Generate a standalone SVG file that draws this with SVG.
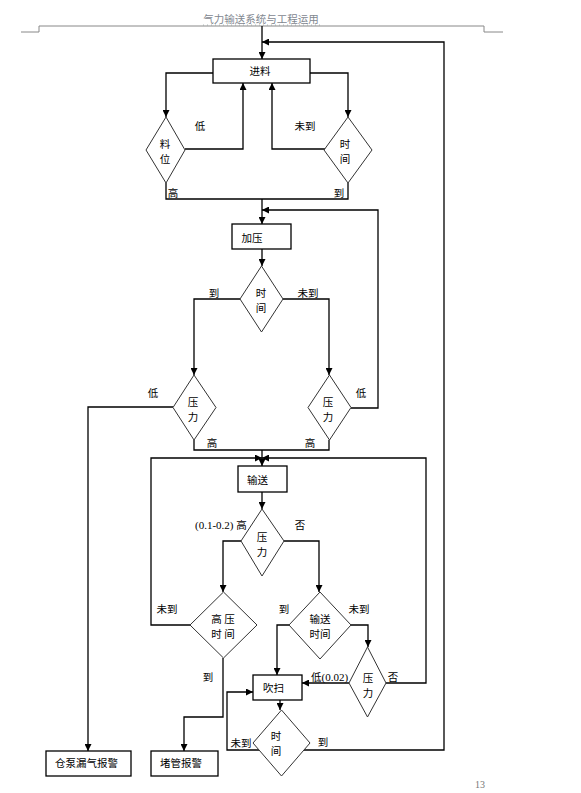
<svg xmlns="http://www.w3.org/2000/svg" width="581" height="793" viewBox="0 0 581 793">
<defs>
<marker id="ah" viewBox="0 0 8 8" refX="8" refY="4" markerWidth="7" markerHeight="7" markerUnits="userSpaceOnUse" orient="auto">
<path d="M0,0 L8,4 L0,8 z" fill="#000"/>
</marker>
<style>
.t{font-family:"Noto Sans CJK SC","Liberation Sans",sans-serif;font-size:10.5px;fill:#000;text-anchor:middle}
.r{font-family:"Liberation Serif","Noto Sans CJK SC",serif;font-size:11px;fill:#000}
.c{fill:none;stroke:#000;stroke-width:1.3;marker-end:url(#ah)}
.n{fill:none;stroke:#000;stroke-width:1.3}
.b{fill:#fff;stroke:#000;stroke-width:1.3}
.d{fill:#fff;stroke:#333;stroke-width:1}
</style>
</defs>
<rect width="581" height="793" fill="#fff"/>
<g id="header">
<text x="261" y="23" style="font-family:'Noto Sans CJK SC',sans-serif;font-size:10.5px;fill:#7f8790;text-anchor:middle">气力输送系统与工程运用</text>
<line x1="203" y1="25" x2="320" y2="25" stroke="#9aa" stroke-width="0.8" stroke-dasharray="1,3"/>
<polyline points="21,32 39,32 39,26 484,26 484,32 503,32" fill="none" stroke="#888" stroke-width="1"/>
</g>
<g id="connectors">
<path class="c" d="M262,26 V59"/>
<path class="c" d="M303,750 H444 V42 H262"/>
<path class="c" d="M213,73 H166 V117"/>
<path class="c" d="M185,149 H243 V83"/>
<path class="c" d="M310,73 H348 V117"/>
<path class="c" d="M328,149 H272 V83"/>
<path class="n" d="M166,183 V199 H348 V183"/>
<path class="c" d="M262,199 V224"/>
<path class="c" d="M351,408 H378 V210 H262"/>
<path class="c" d="M262,249 V266"/>
<path class="c" d="M240,299 H194 V375"/>
<path class="c" d="M283,299 H329 V375"/>
<path class="c" d="M173,407 H88 V751"/>
<path class="n" d="M194,440 V450 H329 V440"/>
<path class="c" d="M262,450 V466"/>
<path class="c" d="M190,625 H151 V458 H262"/>
<path class="c" d="M386,683 H426 V458 H262"/>
<path class="c" d="M262,492 V509"/>
<path class="c" d="M241,541 H223 V592"/>
<path class="c" d="M284,541 H319 V592"/>
<path class="c" d="M223,658 V717 H184 V751"/>
<path class="c" d="M289,625 H277 V675"/>
<path class="c" d="M351,625 H368 V647"/>
<path class="c" d="M349,683 H302"/>
<path class="c" d="M259,750 H227 V692 H253"/>
<path class="c" d="M280,700 V710"/>
</g>
<g id="n_jinliao"><rect class="b" x="213" y="59" width="97" height="24"/><text class="t" x="260" y="75">进料</text></g>
<g id="n_liaowei"><polygon class="d" points="166,117 185,150 166,183 146,150"/><text class="t" x="165" y="148">料</text><text class="t" x="165" y="163">位</text></g>
<g id="n_shijian1"><polygon class="d" points="348,117 372,150 348,183 324,150"/><text class="t" x="345" y="148">时</text><text class="t" x="345" y="163">间</text></g>
<g id="n_jiaya"><rect class="b" x="232" y="224" width="59" height="25"/><text class="t" x="252" y="242">加压</text></g>
<g id="n_shijian2"><polygon class="d" points="261.5,266 283,299 261.5,332 240,299"/><text class="t" x="261" y="297">时</text><text class="t" x="261" y="312">间</text></g>
<g id="n_yali1"><polygon class="d" points="194,375 216,407.5 194,440 173,407.5"/><text class="t" x="193" y="406">压</text><text class="t" x="193" y="421">力</text></g>
<g id="n_yali2"><polygon class="d" points="329.5,375 351,407.5 329.5,440 308,407.5"/><text class="t" x="328" y="406">压</text><text class="t" x="328" y="421">力</text></g>
<g id="n_shusong"><rect class="b" x="238" y="466" width="49" height="26"/><text class="t" x="257.5" y="484">输送</text></g>
<g id="n_yali3"><polygon class="d" points="262,509 284,541 262,576 241,541"/><text class="t" x="262" y="541">压</text><text class="t" x="262" y="556">力</text></g>
<g id="n_gaoya"><polygon class="d" points="223.5,592 257,625 223.5,658 190,625"/><text class="t" x="223" y="623">高 压</text><text class="t" x="223" y="638">时 间</text></g>
<g id="n_sstime"><polygon class="d" points="320,592 351,625 320,659 289,625"/><text class="t" x="320" y="623">输送</text><text class="t" x="320" y="638">时间</text></g>
<g id="n_yali4"><polygon class="d" points="367.5,647 386,683 367.5,717 349,683"/><text class="t" x="368" y="682">压</text><text class="t" x="368" y="697">力</text></g>
<g id="n_chuisao"><rect class="b" x="253" y="675" width="49" height="25"/><text class="t" x="273.5" y="692">吹扫</text></g>
<g id="n_shijian3"><polygon class="d" points="281.5,710 310,743 281.5,776 253,743"/><text class="t" x="276" y="740">时</text><text class="t" x="276" y="755">间</text></g>
<g id="n_loqi"><rect class="b" x="46" y="751" width="85" height="25"/><text class="t" x="86.5" y="767">仓泵漏气报警</text></g>
<g id="n_duguan"><rect class="b" x="151" y="751" width="67" height="25"/><text class="t" x="181" y="767">堵管报警</text></g>
<g id="labels">
<text class="t" x="200" y="130">低</text>
<text class="t" x="305" y="130">未到</text>
<text class="t" x="173" y="197">高</text>
<text class="t" x="339" y="197">到</text>
<text class="t" x="214" y="297">到</text>
<text class="t" x="308" y="297">未到</text>
<text class="t" x="153" y="397">低</text>
<text class="t" x="361" y="397">低</text>
<text class="t" x="212" y="447">高</text>
<text class="t" x="310" y="447">高</text>
<text class="r" x="195" y="529">(0.1-0.2) <tspan style="font-family:'Noto Sans CJK SC',sans-serif;font-size:10.5px">高</tspan></text>
<text class="t" x="300" y="529">否</text>
<text class="t" x="167" y="613">未到</text>
<text class="t" x="284" y="613">到</text>
<text class="t" x="359" y="613">未到</text>
<text class="t" x="208" y="681">到</text>
<text class="r" x="311" y="681"><tspan style="font-family:'Noto Sans CJK SC',sans-serif;font-size:10.5px">低</tspan>(0.02)</text>
<text class="t" x="393" y="681">否</text>
<text class="t" x="241" y="747">未到</text>
<text class="t" x="323" y="746">到</text>
<text x="480" y="788" style="font-family:'Liberation Serif',serif;font-size:10px;fill:#777;text-anchor:middle">13</text>
</g>
</svg>
